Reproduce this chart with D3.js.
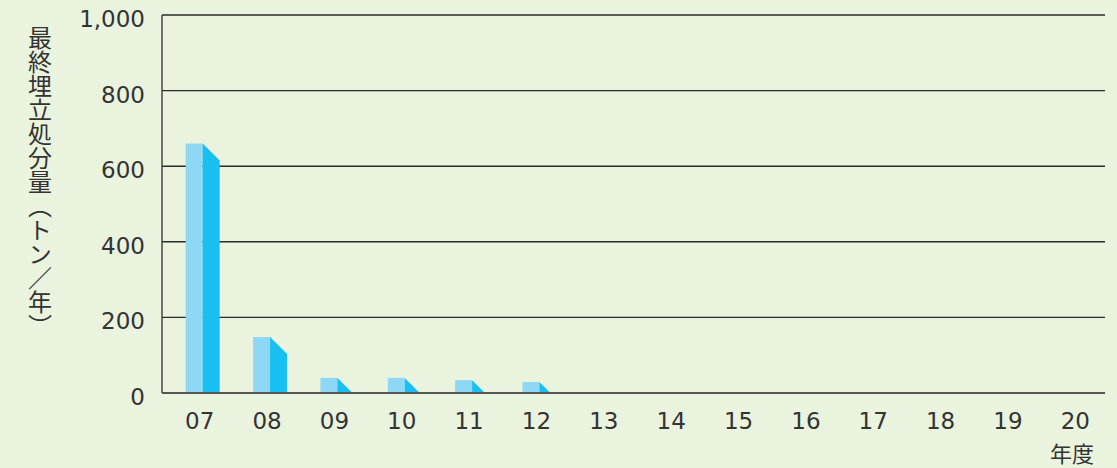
<!DOCTYPE html>
<html><head><meta charset="utf-8">
<script src="https://cdn.jsdelivr.net/npm/d3@7"></script>
<style>
html,body{margin:0;padding:0;background:#eaf3de;}
svg{display:block;}
text{font-family:"DejaVu Sans","Noto Sans CJK JP",sans-serif;fill:#333;}
</style></head>
<body>
<svg id="chart" width="1117" height="468"></svg>
<script>
const categories = ["07","08","09","10","11","12","13","14","15","16","17","18","19","20"];
const values = [660,148,40,40,34,29,0,0,0,0,0,0,0,0];
const yTicks = [0,200,400,600,800,1000];
const yLabel = "最終埋立処分量（トン／年）";
const xUnit = "年度";

const svg = d3.select("#chart");
const W = 1117, H = 468;
svg.append("rect").attr("width",W).attr("height",H).attr("fill","#eaf3de");

const x = d3.scaleBand().domain(categories).range([162,1105]).padding(0);
const y = d3.scaleLinear().domain([0,1000]).range([393,15]);

// gridlines
svg.append("g").selectAll("line").data(yTicks.filter(d=>d>0)).join("line")
  .attr("x1",162).attr("x2",1105)
  .attr("y1",d=>y(d)).attr("y2",d=>y(d))
  .attr("stroke","#2b2b2b").attr("stroke-width",1.4);

// y tick labels
svg.append("g").selectAll("text").data(yTicks).join("text")
  .attr("x",145).attr("y",d=>y(d)+12)
  .attr("text-anchor","end").attr("font-size",23)
  .text(d=>d3.format(",")(d));

// bars
const frontW = 17, sideW = 17;
const y0 = y(0);
const bars = svg.append("g");
categories.forEach((c,i)=>{
  const v = values[i];
  if (v<=0) return;
  const cx = x(c)+x.bandwidth()/2;
  const x1 = cx - 10;
  const yt = y(v);
  bars.append("rect").attr("x",x1).attr("y",yt).attr("width",frontW).attr("height",y0-yt).attr("fill","#8fd8f5");
  const xs = x1+frontW;
  const h = y0-yt;
  let pts;
  if (h > sideW) {
    pts = [[xs,yt],[xs+sideW,yt+sideW],[xs+sideW,y0],[xs,y0]];
  } else {
    pts = [[xs,yt],[xs+h,y0],[xs,y0]];
  }
  bars.append("polygon").attr("points",pts.map(p=>p.join(",")).join(" ")).attr("fill","#18c0f1");
});

// axes lines
svg.append("line").attr("x1",162).attr("x2",162).attr("y1",15).attr("y2",y0)
  .attr("stroke","#3a3a3a").attr("stroke-width",1.4);
svg.append("line").attr("x1",162).attr("x2",1105).attr("y1",y0).attr("y2",y0)
  .attr("stroke","#555").attr("stroke-width",2.2);

// x labels
svg.append("g").selectAll("text").data(categories).join("text")
  .attr("x",d=>x(d)+x.bandwidth()/2+4).attr("y",429)
  .attr("text-anchor","middle").attr("font-size",23)
  .text(d=>d);

svg.append("text").attr("x",1072).attr("y",462).attr("text-anchor","middle")
  .attr("font-size",22).style("font-family","'Noto Sans CJK JP'").text(xUnit);

svg.append("text").attr("x",40).attr("y",26)
  .style("writing-mode","vertical-rl").style("font-family","'Noto Sans CJK JP'")
  .attr("font-size",24).text(yLabel);
</script>
</body></html>
